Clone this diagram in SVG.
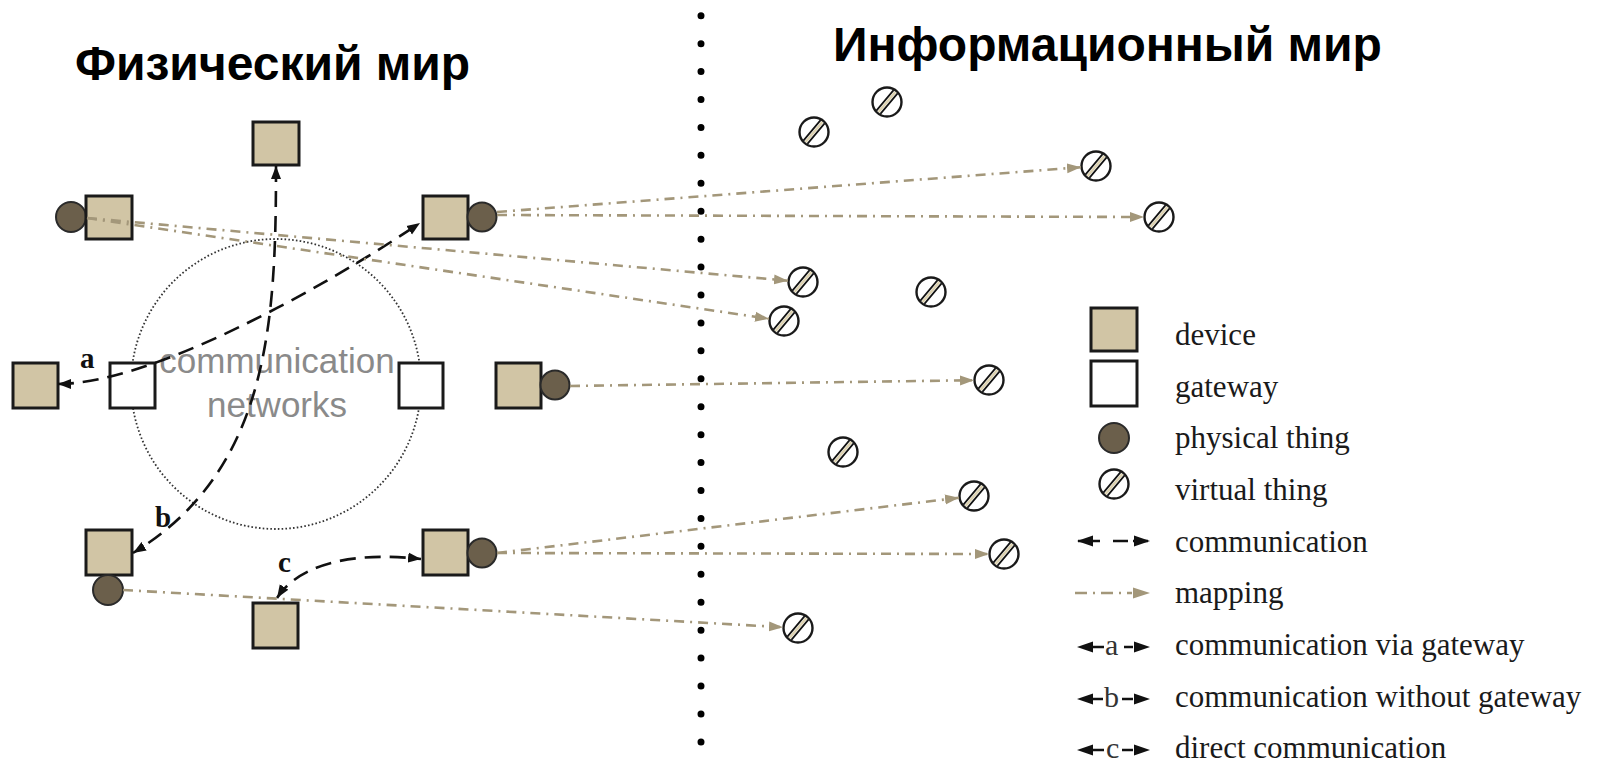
<svg xmlns="http://www.w3.org/2000/svg" xmlns:xlink="http://www.w3.org/1999/xlink" width="1597" height="765" viewBox="0 0 1597 765">
<style>
.title{font-family:"Liberation Sans",Arial,sans-serif;font-weight:bold;font-size:48px;fill:#000}
.dev{fill:#d1c5a5;stroke:#1a1a1a;stroke-width:3}
.gw{fill:#fff;stroke:#1a1a1a;stroke-width:3}
.phys{fill:#6b5f4b;stroke:#2a2a2a;stroke-width:2}
.net{fill:none;stroke:#333;stroke-width:1.8;stroke-dasharray:1.6 2.2}
.nettext{font-family:"Liberation Sans",Arial,sans-serif;font-size:35px;fill:#8a8a8a;text-anchor:middle}
.comm{fill:none;stroke:#111;stroke-width:2.6;stroke-dasharray:16 9;marker-start:url(#ca);marker-end:url(#ca)}
.map{fill:none;stroke:#a3977a;stroke-width:2.6;stroke-dasharray:10 6 2 6;marker-end:url(#ma)}
.lbl{font-family:"Liberation Serif","Times New Roman",serif;font-weight:bold;font-size:29px;fill:#111}
.leg{font-family:"Liberation Serif","Times New Roman",serif;font-size:31px;fill:#1a1a1a}
.legl{font-family:"Liberation Serif","Times New Roman",serif;font-size:30px;fill:#333}
</style>
<defs>
<marker id="ca" markerUnits="userSpaceOnUse" markerWidth="14" markerHeight="11" refX="13" refY="5" orient="auto-start-reverse" viewBox="0 0 14 10">
<path d="M0,0 L13,5 L0,10 z" fill="#111"/>
</marker>
<marker id="ma" markerUnits="userSpaceOnUse" markerWidth="15" markerHeight="11" refX="14" refY="5" orient="auto" viewBox="0 0 15 10">
<path d="M0,0 L14,5 L0,10 z" fill="#a3977a"/>
</marker>
<g id="vt">
<circle r="14.5" fill="#fff" stroke="#1a1a1a" stroke-width="2.4"/>
<path d="M-8.4,10 L8.4,-10" stroke="#ddd2b0" stroke-width="2.5"/>
<path d="M-10.6,8.6 L6.6,-11.9 M-6.6,11.9 L10.6,-8.6" stroke="#111" stroke-width="1.7"/>
</g>
</defs>
<rect width="1597" height="765" fill="#fff"/>

<text class="title" x="75" y="80">Физический мир</text>
<text class="title" x="833" y="61">Информационный мир</text>

<g id="divider">
<line x1="701" y1="15.7" x2="701" y2="742" stroke="#000" stroke-width="7" stroke-linecap="round" stroke-dasharray="0 27.93"/>
</g>

<g id="network">
<circle class="net" cx="276" cy="384" r="145"/>
<text class="nettext" x="277" y="373">communication</text>
<text class="nettext" x="277" y="417">networks</text>
</g>

<g id="device-top"><rect class="dev" x="253" y="122" width="46" height="43"/></g>
<g id="device-tl"><circle class="phys" cx="71" cy="217" r="15"/><rect class="dev" x="86" y="196" width="46" height="43"/></g>
<g id="device-tr"><rect class="dev" x="423" y="196" width="45" height="43"/><circle class="phys" cx="482" cy="217" r="14.5"/></g>
<g id="device-l"><rect class="dev" x="13" y="363" width="45" height="45"/></g>
<g id="gateway-l"><rect class="gw" x="110" y="363" width="45" height="45"/></g>
<g id="gateway-r"><rect class="gw" x="399" y="363" width="44" height="45"/></g>
<g id="device-rm"><rect class="dev" x="496" y="363" width="45" height="45"/><circle class="phys" cx="555" cy="385" r="14.5"/></g>
<g id="device-bl"><rect class="dev" x="86" y="530" width="46" height="45"/><circle class="phys" cx="108" cy="590" r="15"/></g>
<g id="device-br"><rect class="dev" x="423" y="530" width="45" height="45"/><circle class="phys" cx="482" cy="553" r="14.5"/></g>
<g id="device-b"><rect class="dev" x="253" y="603" width="45" height="45"/></g>

<g id="virtual-things">
<use xlink:href="#vt" x="814" y="132"/>
<use xlink:href="#vt" x="887" y="102"/>
<use xlink:href="#vt" x="1096" y="166"/>
<use xlink:href="#vt" x="1159" y="217"/>
<use xlink:href="#vt" x="803" y="282"/>
<use xlink:href="#vt" x="931" y="292"/>
<use xlink:href="#vt" x="784" y="321"/>
<use xlink:href="#vt" x="989" y="380"/>
<use xlink:href="#vt" x="843" y="452"/>
<use xlink:href="#vt" x="974" y="496"/>
<use xlink:href="#vt" x="1004" y="554"/>
<use xlink:href="#vt" x="798" y="628"/>
</g>

<g id="connectors">
<path class="comm" d="M58,384 C150,384 320,290 420,223"/>
<path class="comm" d="M276,166 C276,320 270,470 133,553"/>
<path class="comm" d="M277,598 C295,570 340,550 421,559"/>
<path class="map" d="M87,218 L788,280.7"/>
<path class="map" d="M87,218 L769,318.8"/>
<path class="map" d="M497,212 L1081,167.2"/>
<path class="map" d="M497,215 L1144,217"/>
<path class="map" d="M570,386 L974,380.2"/>
<path class="map" d="M497,553 L959,497.8"/>
<path class="map" d="M497,553 L989,554"/>
<path class="map" d="M123,590 L783,627.2"/>
<text class="lbl" x="80" y="368">a</text>
<text class="lbl" x="155" y="527">b</text>
<text class="lbl" x="278" y="572">c</text>
</g>

<g id="legend">
<rect class="dev" x="1091" y="308" width="46" height="43"/>
<text class="leg" x="1175" y="345">device</text>
<rect class="gw" x="1091" y="361" width="46" height="45"/>
<text class="leg" x="1175" y="397">gateway</text>
<circle class="phys" cx="1114" cy="438" r="15"/>
<text class="leg" x="1175" y="448">physical thing</text>
<use xlink:href="#vt" x="1114" y="484"/>
<text class="leg" x="1175" y="500">virtual thing</text>
<path d="M1078,541 L1100,541 M1113,541 L1128,541 M1133,541 L1148,541" stroke="#111" stroke-width="2.6" fill="none"/>
<path d="M1077,541 L1093,535.5 L1093,546.5 z M1150,541 L1134,535.5 L1134,546.5 z" fill="#111"/>
<text class="leg" x="1175" y="552">communication</text>
<path d="M1075,593 L1132,593" stroke="#a3977a" stroke-width="2.6" stroke-dasharray="12 6 2 6" fill="none"/>
<path d="M1150,593 L1133,587.5 L1133,598.5 z" fill="#a3977a"/>
<text class="leg" x="1175" y="603">mapping</text>
<path d="M1077,647 L1093,641.5 L1093,652.5 z M1150,647 L1134,641.5 L1134,652.5 z" fill="#111"/>
<path d="M1090,647 L1104,647 M1124,647 L1133,647" stroke="#111" stroke-width="2.6"/>
<text class="legl" x="1105" y="655">a</text>
<text class="leg" x="1175" y="655">communication via gateway</text>
<path d="M1077,699 L1093,693.5 L1093,704.5 z M1150,699 L1134,693.5 L1134,704.5 z" fill="#111"/>
<path d="M1090,699 L1103,699 M1122,699 L1133,699" stroke="#111" stroke-width="2.6"/>
<text class="legl" x="1104" y="707">b</text>
<text class="leg" x="1175" y="707">communication without gateway</text>
<path d="M1077,750 L1093,744.5 L1093,755.5 z M1150,750 L1134,744.5 L1134,755.5 z" fill="#111"/>
<path d="M1090,750 L1104,750 M1122,750 L1133,750" stroke="#111" stroke-width="2.6"/>
<text class="legl" x="1106" y="758">c</text>
<text class="leg" x="1175" y="758">direct communication</text>
</g>
</svg>
